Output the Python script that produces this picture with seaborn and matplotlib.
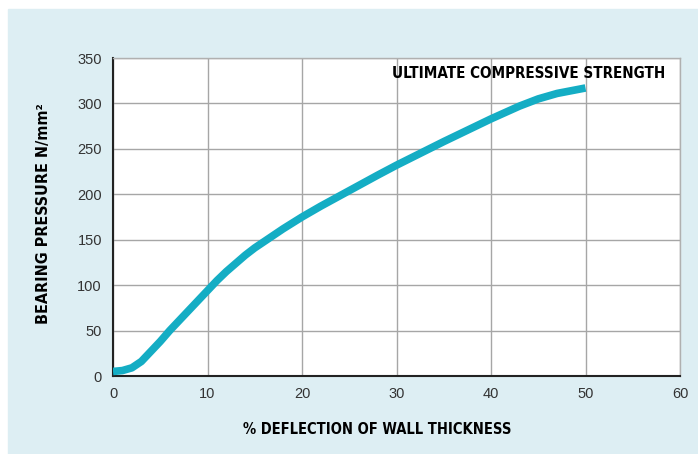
import numpy as np
import pandas as pd
import matplotlib
matplotlib.use("Agg")
import matplotlib.pyplot as plt
import seaborn as sns
from matplotlib.patches import Rectangle

# curve
deflection = [0, 1, 2, 3, 4, 5, 6, 7, 8, 9, 10, 11, 12, 13, 14, 15, 16, 18, 20, 22,
              25, 28, 30, 35, 40, 43, 45, 47, 49, 50]
pressure = [5, 6, 9, 16, 27, 38, 50, 61, 72, 83, 94, 105, 115, 124, 133, 141, 148,
            162, 175, 187, 204, 221, 232, 258, 283, 297, 305, 311, 315, 317]
x_ticks = [0, 10, 20, 30, 40, 50, 60]
y_ticks = [0, 50, 100, 150, 200, 250, 300, 350]

df = pd.DataFrame({'deflection': deflection, 'pressure': pressure})

sns.set_style("white")
plt.rcParams['font.family'] = ['Liberation Sans', 'DejaVu Sans']

fig = plt.figure(figsize=(6.98, 4.54), dpi=100)
fig.patch.set_facecolor('white')
fig.add_artist(Rectangle((8 / 698, 0), 690 / 698, 445 / 454,
                         transform=fig.transFigure, color='#ddeef3', zorder=-5))

ax = fig.add_axes([113 / 698, 78 / 454, 567 / 698, 318 / 454])
ax.set_zorder(2)
ax.set_facecolor('white')

sns.lineplot(data=df, x='deflection', y='pressure', ax=ax, color='#14adc4',
             linewidth=5.5, solid_capstyle='butt', solid_joinstyle='round', zorder=3)

ax.set_xlim(0, 60)
ax.set_ylim(0, 350)
ax.set_xticks(x_ticks)
ax.set_yticks(y_ticks)
ax.grid(True, color='#a6a6a6', linewidth=1)
ax.tick_params(labelsize=10.5, colors='#333333', length=0, pad=8)

for side in ['top', 'right']:
    ax.spines[side].set_color('#b0b0b0')
    ax.spines[side].set_linewidth(1)
for side in ['left', 'bottom']:
    ax.spines[side].set_color('#222222')
    ax.spines[side].set_linewidth(1.5)

label_font = dict(family='DejaVu Sans', fontstretch='condensed', fontweight='bold',
                  color='black')
ax.set_xlabel('% DEFLECTION OF WALL THICKNESS', fontsize=10.5, **label_font)
ax.xaxis.set_label_coords(0.466, -0.145)
ax.set_ylabel('BEARING PRESSURE N/mm²', fontsize=11.5, **label_font)
ax.yaxis.set_label_coords(-0.11, 0.51)

ax.text(29.5, 333, 'ULTIMATE COMPRESSIVE STRENGTH', ha='left', va='center',
        zorder=4, fontsize=10.9, **label_font)

fig.savefig('out.png', dpi=100)
